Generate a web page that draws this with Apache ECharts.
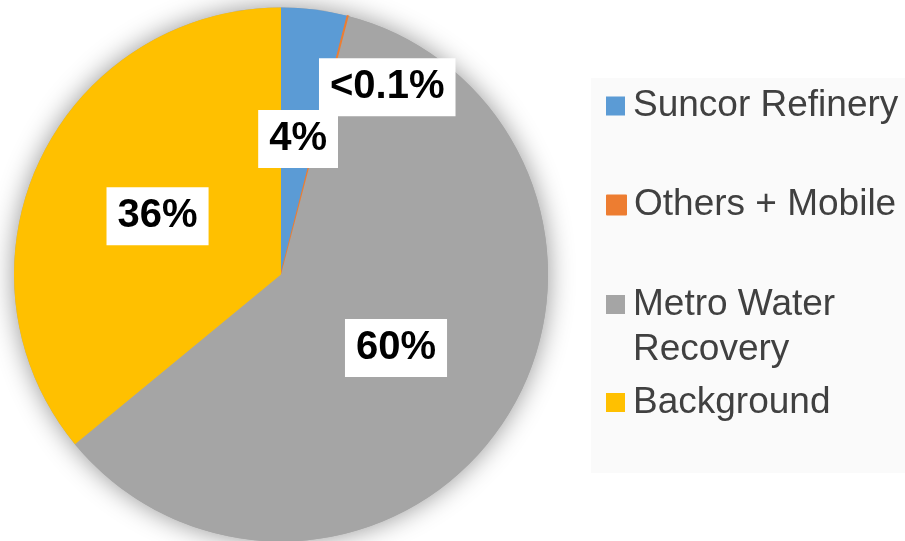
<!DOCTYPE html>
<html>
<head>
<meta charset="utf-8">
<title>Source contributions</title>
<script src="https://cdn.jsdelivr.net/npm/echarts@6/dist/echarts.min.js"></script>
<style>
  html, body { margin: 0; padding: 0; background: #ffffff; }
  #chart { width: 905px; height: 541px; }
</style>
</head>
<body>
<div id="chart"></div>
<script>
// Source shares (percent)
const categories = ['Suncor Refinery', 'Others + Mobile', 'Metro Water Recovery', 'Background'];
const shares = [4, 0.08, 60, 36];
const colors = ['#5b9bd5', '#ed7d31', '#a5a5a5', '#ffc000'];
// Wrapped legend text; a leading blank line keeps the marker level with the first line
const legendText = ['Suncor Refinery', 'Others + Mobile', '\nMetro Water\nRecovery', 'Background'];

const CENTER = [281, 274.5];
const RADIUS = 267;
const FONT = '"Liberation Sans", Arial, Helvetica, sans-serif';

function shareLabel(v) {
  return v < 0.1 ? '<0.1%' : v + '%';
}

const pieData = categories.map((name, i) => {
  const item = {
    name: name,
    value: shares[i],
    itemStyle: { color: colors[i], borderWidth: 0 }
  };
  if (shares[i] < 0.1) {
    // keep the thin sliver visible and move its label into open space
    item.itemStyle.borderWidth = 1.5;
    item.itemStyle.borderColor = colors[i];
    item.label = { offset: [72, -55] };
  }
  return item;
});

// One legend block per entry so each row sits at its own height
const legendTops = [83.5, 182.5, 237, 380];
const legends = categories.map((name, i) => ({
  orient: 'vertical',
  left: 606,
  top: legendTops[i],
  padding: 0,
  itemWidth: 19,
  itemHeight: 19,
  itemGap: 0,
  icon: 'rect',
  selectedMode: false,
  formatter: () => legendText[i],
  textStyle: {
    fontFamily: FONT,
    fontSize: 37,
    lineHeight: 45,
    color: '#404040',
    padding: [0, 0, 0, 3]
  },
  data: [name]
}));

const chart = echarts.init(document.getElementById('chart'), null, { renderer: 'canvas' });
chart.setOption({
  animation: false,
  backgroundColor: '#ffffff',
  graphic: [{
    type: 'rect',
    left: 591,
    top: 78,
    shape: { width: 314, height: 395 },
    style: { fill: '#fafafa' },
    silent: true,
    z: -10
  }],
  legend: legends,
  series: [
    {
      // soft drop shadow under the whole disc
      type: 'pie',
      center: CENTER,
      radius: RADIUS,
      silent: true,
      z: 1,
      label: { show: false },
      labelLine: { show: false },
      emphasis: { disabled: true },
      itemStyle: {
        color: '#a5a5a5',
        borderWidth: 0,
        shadowBlur: 26,
        shadowColor: 'rgba(0,0,0,0.42)'
      },
      data: [{ name: '_shade', value: 1 }]
    },
    {
      type: 'pie',
      center: CENTER,
      radius: RADIUS,
      startAngle: 90,
      clockwise: true,
      z: 2,
      avoidLabelOverlap: false,
      labelLayout: { hideOverlap: false },
      emphasis: { disabled: true },
      labelLine: { show: false },
      label: {
        show: true,
        position: 'inside',
        formatter: p => shareLabel(p.value),
        fontFamily: FONT,
        fontSize: 40,
        fontWeight: 'bold',
        lineHeight: 40,
        color: '#000000',
        backgroundColor: '#ffffff',
        padding: [9, 11, 9, 11]
      },
      data: pieData
    }
  ]
});
</script>
</body>
</html>
